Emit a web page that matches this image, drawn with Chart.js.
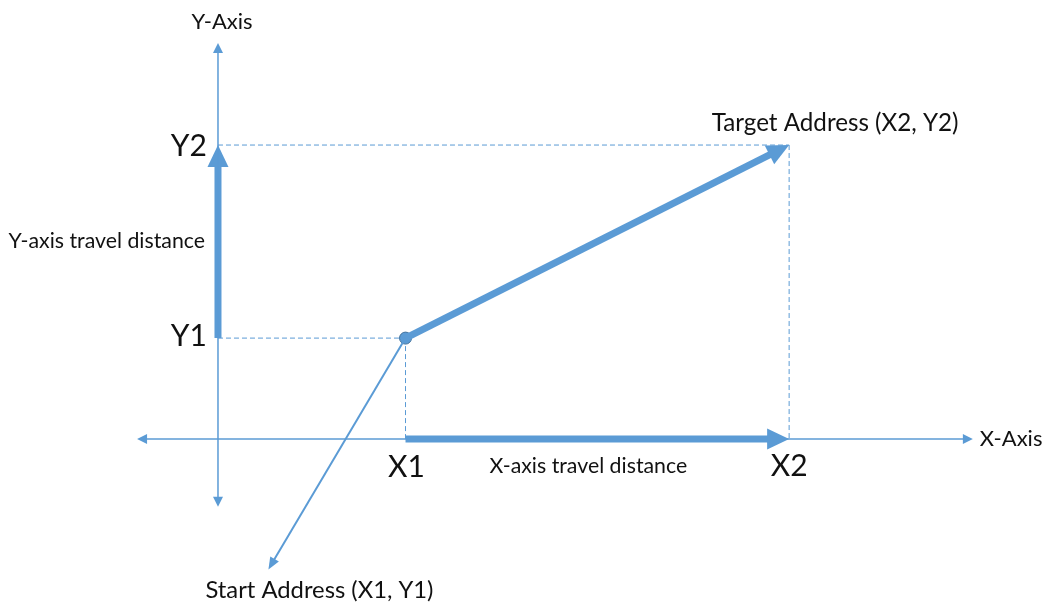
<!DOCTYPE html>
<html>
<head>
<meta charset="utf-8">
<title>Travel distance</title>
<script src="https://cdn.jsdelivr.net/npm/chart.js@4/dist/chart.umd.min.js"></script>
<style>
    body{ margin:0; background:#fff; }
    #myChart{ display:block; }
</style>
</head>
<body>
<canvas id="myChart" width="1049" height="603"></canvas>
<script>

// valores (unidades de los ejes, origen en el cruce)
var puntoX = [1.97, 6];          // X1, X2
var puntoY = [1.03, 3];          // Y1, Y2
var ejeX = [-0.85, 7.93];        // extremos del eje X
var ejeY = [-0.69, 4.04];        // extremos del eje Y
var finPuntero = [0.53, -1.33];  // punta de la flecha hacia "Start Address"
var rangoX = [-2.29, 8.73];
var rangoY = [-1.673, 4.48];

var textosEjes = ['X-Axis', 'Y-Axis'];
var textosX = ['X1', 'X2'];
var textosY = ['Y1', 'Y2'];
var textosDistancia = ['X-axis travel distance', 'Y-axis travel distance'];
var textosDireccion = ['Start Address (X1, Y1)', 'Target Address (X2, Y2)'];

var azul = '#5B9BD5';
var fuente = 'Lato, "Open Sans", sans-serif';

var chart;

function pt(x, y){
    return {x: x, y: y};
}

// dibuja el cuerpo y las cabezas de las flechas con los pixeles de la escala
var pluginFlechas = {
    id: 'flechas',
    afterDatasetDraw: function(chart, args){
        var ds = chart.data.datasets[args.index];
        if(!ds.flecha) return;
        var pts = args.meta.data;
        var a = pts[0], b = pts[pts.length-1];
        var ctx = chart.ctx;
        var f = ds.flecha;
        ctx.save();
        ctx.strokeStyle = ds.borderColor;
        ctx.fillStyle = ds.borderColor;
        ctx.lineWidth = ds.borderWidth;
        ctx.lineCap = 'butt';

        var dx = b.x - a.x, dy = b.y - a.y;
        var len = Math.sqrt(dx*dx + dy*dy);
        var ux = dx/len, uy = dy/len;
        var x0 = a.x, y0 = a.y, x1 = b.x, y1 = b.y;
        if(f.fin){ x1 -= ux*f.largo*0.9; y1 -= uy*f.largo*0.9; }
        if(f.inicio){ x0 += ux*f.largo*0.9; y0 += uy*f.largo*0.9; }
        ctx.beginPath();
        ctx.moveTo(x0, y0);
        ctx.lineTo(x1, y1);
        ctx.stroke();

        function cabeza(tx, ty, vx, vy){
            var bx = tx - vx*f.largo, by = ty - vy*f.largo;
            var px = -vy*f.ancho/2, py = vx*f.ancho/2;
            ctx.beginPath();
            ctx.moveTo(tx, ty);
            ctx.lineTo(bx + px, by + py);
            ctx.lineTo(bx - px, by - py);
            ctx.closePath();
            ctx.fill();
        }
        if(f.fin) cabeza(b.x, b.y, ux, uy);
        if(f.inicio) cabeza(a.x, a.y, -ux, -uy);
        ctx.restore();
    }
};

// textos del diagrama, colocados respecto a los puntos de la escala
var pluginTextos = {
    id: 'textos',
    afterDraw: function(chart){
        var sx = chart.scales.x, sy = chart.scales.y;
        var ctx = chart.ctx;
        var lista = [
            [textosEjes[1], 0, ejeY[1], 4, -21, 'center', 22],
            [textosEjes[0], ejeX[1], 0, 7, 0, 'left', 22],
            [textosY[1], 0, puntoY[1], -11, 1, 'right', 30],
            [textosY[0], 0, puntoY[0], -11, -2, 'right', 30],
            [textosX[0], puntoX[0], 0, 1, 28, 'center', 30],
            [textosX[1], puntoX[1], 0, 0, 27, 'center', 30],
            [textosDistancia[0], (puntoX[0]+puntoX[1])/2, 0, -9, 27, 'center', 21.3],
            [textosDistancia[1], 0, (puntoY[0]+puntoY[1])/2, -13, 0, 'right', 21.3],
            [textosDireccion[1], puntoX[1], puntoY[1], 46, -22, 'center', 24.2],
            [textosDireccion[0], finPuntero[0], finPuntero[1], 51, 21, 'center', 23.8]
        ];
        ctx.save();
        ctx.fillStyle = '#111';
        ctx.textBaseline = 'middle';
        lista.forEach(function(t){
            ctx.font = t[6] + 'px ' + fuente;
            ctx.textAlign = t[5];
            ctx.fillText(t[0], sx.getPixelForValue(t[1]) + t[3], sy.getPixelForValue(t[2]) + t[4]);
        });
        ctx.restore();
    }
};

function crearDiagrama(){
    var ctx = document.getElementById('myChart');
    var guia = {borderColor: azul, borderWidth: 1, borderDash: [5, 3], pointRadius: 0, showLine: true, fill: false};

    chart = new Chart(ctx, {
        type: 'scatter',
        data: {
            datasets: [
                {data: [pt(ejeX[0], 0), pt(ejeX[1], 0)], borderColor: azul, borderWidth: 1.5, pointRadius: 0, showLine: false,
                    flecha: {inicio: true, fin: true, largo: 10, ancho: 10}},
                {data: [pt(0, ejeY[0]), pt(0, ejeY[1])], borderColor: azul, borderWidth: 1.5, pointRadius: 0, showLine: false,
                    flecha: {inicio: true, fin: true, largo: 10, ancho: 10}},
                Object.assign({data: [pt(0, puntoY[1]), pt(puntoX[1], puntoY[1])]}, guia),
                Object.assign({data: [pt(puntoX[1], puntoY[1]), pt(puntoX[1], 0)]}, guia),
                Object.assign({data: [pt(0, puntoY[0]), pt(puntoX[0], puntoY[0])]}, guia),
                Object.assign({data: [pt(puntoX[0], puntoY[0]), pt(puntoX[0], 0)]}, guia),
                {data: [pt(0, puntoY[0]), pt(0, puntoY[1])], borderColor: azul, borderWidth: 7, pointRadius: 0, showLine: false,
                    flecha: {fin: true, largo: 22, ancho: 21}},
                {data: [pt(puntoX[0], 0), pt(puntoX[1], 0)], borderColor: azul, borderWidth: 7, pointRadius: 0, showLine: false,
                    flecha: {fin: true, largo: 22, ancho: 21}},
                {data: [pt(puntoX[0], puntoY[0]), pt(puntoX[1], puntoY[1])], borderColor: azul, borderWidth: 7, pointRadius: 0, showLine: false,
                    flecha: {fin: true, largo: 22, ancho: 21}},
                {data: [pt(puntoX[0], puntoY[0]), pt(finPuntero[0], finPuntero[1])], borderColor: azul, borderWidth: 2, pointRadius: 0, showLine: false,
                    flecha: {fin: true, largo: 12, ancho: 10}},
                {data: [pt(puntoX[0], puntoY[0])], pointRadius: 6, pointBackgroundColor: azul, pointBorderColor: '#41719C', pointBorderWidth: 1, showLine: false}
            ]
        },
        options: {
            responsive: false,
            animation: false,
            events: [],
            layout: {padding: 0, autoPadding: false},
            plugins: {legend: {display: false}, tooltip: {enabled: false}},
            scales: {
                x: {type: 'linear', display: false, min: rangoX[0], max: rangoX[1]},
                y: {type: 'linear', display: false, min: rangoY[0], max: rangoY[1]}
            }
        },
        plugins: [pluginFlechas, pluginTextos]
    });
}

crearDiagrama();
</script>
</body>
</html>
